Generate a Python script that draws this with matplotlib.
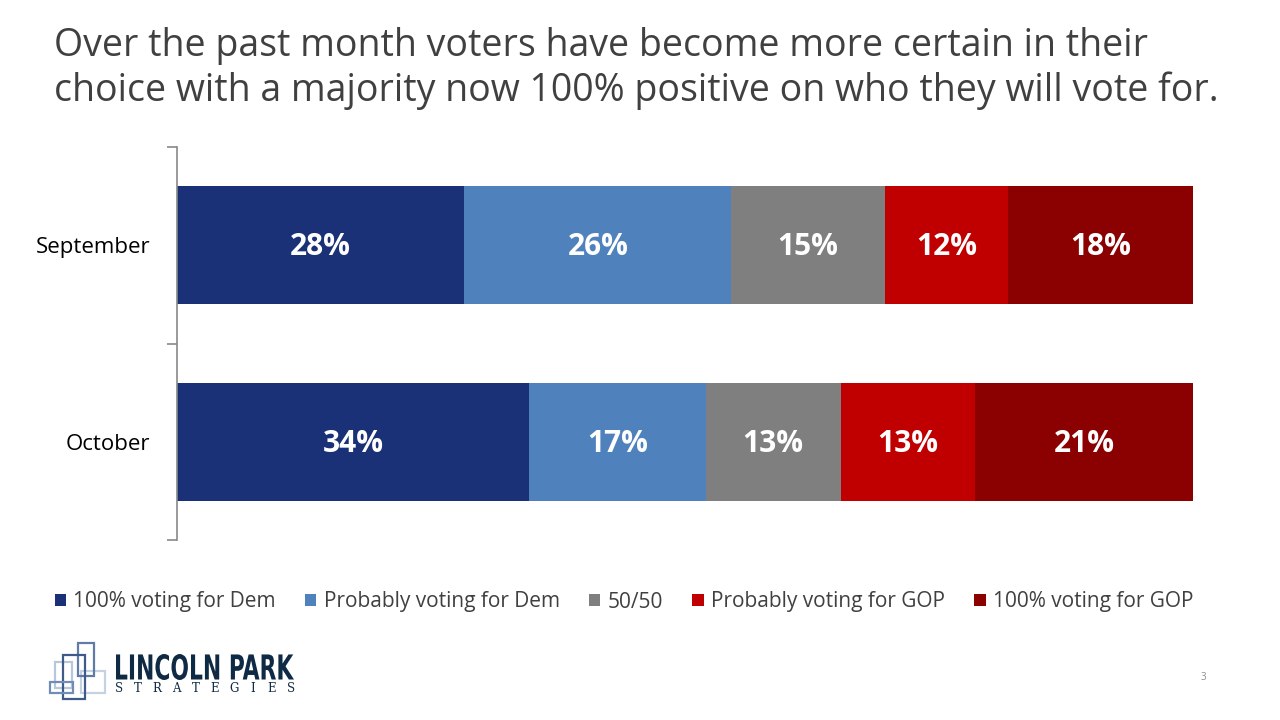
import matplotlib
matplotlib.use("Agg")
import matplotlib.pyplot as plt
from matplotlib.patches import Patch, Rectangle, PathPatch
from matplotlib.textpath import TextPath
from matplotlib.font_manager import FontProperties
from matplotlib.transforms import Affine2D
import numpy as np

categories = ["September", "October"]
series_names = ["100% voting for Dem", "Probably voting for Dem", "50/50",
                "Probably voting for GOP", "100% voting for GOP"]
september = [28, 26, 15, 12, 18]
october = [34, 17, 13, 13, 21]
colors = ["#1A3177", "#4F81BD", "#7F7F7F", "#C00000", "#8B0000"]
title = ("Over the past month voters have become more certain in their\n"
         "choice with a majority now 100% positive on who they will vote for.")

FONT = ["Open Sans", "DejaVu Sans"]
plt.rcParams["font.family"] = FONT

fig = plt.figure(figsize=(12.8, 7.2), dpi=100)
ax = fig.add_axes([177/1280, 1-540/720, (1193-177)/1280, (540-147)/720])

data = np.array([september, october], dtype=float)
shares = data / data.sum(axis=1, keepdims=True)
y = np.arange(len(categories))
left = np.zeros(len(categories))
for j, name in enumerate(series_names):
    bars = ax.barh(y, shares[:, j], left=left, height=0.6, color=colors[j],
                   label=name, edgecolor="none")
    for i, b in enumerate(bars):
        ax.text(left[i] + shares[i, j]/2, y[i] + 0.01, f"{int(data[i, j])}%",
                ha="center", va="center", color="white", fontsize=21.5,
                fontweight="bold")
    left += shares[:, j]

ax.set_xlim(0, 1)
ax.set_ylim(1.5, -0.5)
for s in ["top", "right", "bottom"]:
    ax.spines[s].set_visible(False)
ax.spines["left"].set_color("#898989")
ax.spines["left"].set_linewidth(1.2)
ax.set_xticks([])
ax.set_yticks([-0.5, 0.5, 1.5])
ax.set_yticklabels([])
ax.tick_params(axis="y", which="major", length=7, color="#898989", width=1.2)
ax.set_yticks(y, minor=True)
ax.set_yticklabels(categories, minor=True, fontsize=16, color="#000000")
ax.tick_params(axis="y", which="minor", length=0, pad=19)

fig.text(54/1280, 1-27/720, title, ha="left", va="top", fontsize=27,
         color="#404040", linespacing=1.2)

handles = [Patch(facecolor=c, edgecolor="none") for c in colors]
fig.legend(handles, series_names, loc="center", ncol=5, frameon=False,
           bbox_to_anchor=(624/1280, 1-602/720), fontsize=15,
           handlelength=0.55, handleheight=0.55, handletextpad=0.35,
           columnspacing=1.4, labelcolor="#404040")

# logo (pixel-coordinate overlay)
ov = fig.add_axes([0, 0, 1, 1], zorder=5)
ov.set_xlim(0, 1280)
ov.set_ylim(720, 0)
ov.axis("off")

def prect(x0, y0, x1, y1, color, lw=1.6):
    ov.add_patch(Rectangle((x0, y0), x1-x0, y1-y0, fill=False,
                           edgecolor=color, linewidth=lw))
prect(55, 662, 72, 688, "#B8C8DC")
prect(81, 671, 105, 693, "#C5D2E2")
prect(78, 643, 94, 676, "#5F7BA6")
prect(63, 655, 85, 699, "#3E5A88")
prect(50, 682, 73, 693, "#6F8DB5")

def fit_text(s, x0, y0, x1, y1, fp, color):
    tp = TextPath((0, 0), s, size=10, prop=fp)
    ext = tp.get_extents()
    sx = (x1 - x0) / ext.width
    sy = (y1 - y0) / ext.height
    tr = Affine2D().translate(-ext.x0, -ext.y0).scale(sx, -sy).translate(x0, y1)
    ov.add_patch(PathPatch(tr.transform_path(tp), facecolor=color,
                           edgecolor="none"))

fit_text("LINCOLN PARK", 116, 654, 294, 680,
         FontProperties(family="DejaVu Sans", weight="bold", stretch="condensed"),
         "#0F2A44")
letters = "STRATEGIES"
xs = np.linspace(119, 291, len(letters))
for xc, ch in zip(xs, letters):
    ov.text(xc, 688.5, ch, ha="center", va="center", fontsize=8.5,
            color="#0F2A44", family="DejaVu Serif")

fig.text(1203/1280, 1-677/720, "3", ha="center", va="center", fontsize=7,
         color="#8C8C8C")

fig.savefig("out.png", dpi=100)
